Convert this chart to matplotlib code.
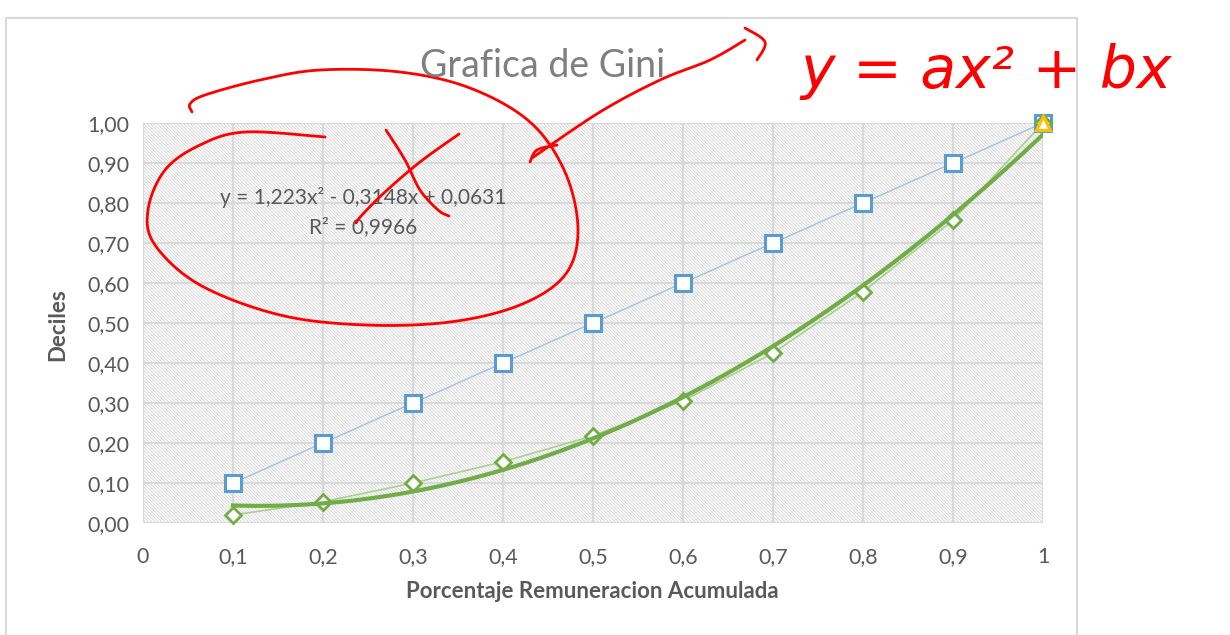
import numpy as np
import matplotlib
matplotlib.use("Agg")
import matplotlib.pyplot as plt
from matplotlib.patches import Rectangle

# datos
deciles_x = [0.1, 0.2, 0.3, 0.4, 0.5, 0.6, 0.7, 0.8, 0.9, 1.0]
igualdad_y = [0.1, 0.2, 0.3, 0.4, 0.5, 0.6, 0.7, 0.8, 0.9, 1.0]
lorenz_y = [0.020, 0.053, 0.100, 0.153, 0.218, 0.305, 0.425, 0.578, 0.757, 1.0]
punto_x = [1.0]
punto_y = [1.0]
coef = [1.223, -0.3148, 0.0631]
eq_text = "y = 1,223x² - 0,3148x + 0,0631"
r2_text = "R² = 0,9966"
x_ticks = [0, 0.1, 0.2, 0.3, 0.4, 0.5, 0.6, 0.7, 0.8, 0.9, 1.0]
x_labels = ["0", "0,1", "0,2", "0,3", "0,4", "0,5", "0,6", "0,7", "0,8", "0,9", "1"]
y_ticks = [0, 0.1, 0.2, 0.3, 0.4, 0.5, 0.6, 0.7, 0.8, 0.9, 1.0]
y_labels = ["0,00", "0,10", "0,20", "0,30", "0,40", "0,50", "0,60", "0,70", "0,80", "0,90", "1,00"]

plt.rcParams['font.family'] = ['Lato', 'DejaVu Sans']
plt.rcParams['hatch.linewidth'] = 0.5

W, H = 1230, 635
fig = plt.figure(figsize=(12.3, 6.35), dpi=100)

def px(x, y):
    return x / W, 1 - y / H

# borde del grafico
fig.patches.append(Rectangle(px(6, 640), 1071 / W, 622 / H, transform=fig.transFigure,
                             fill=False, edgecolor='#d9d9d9', linewidth=1.5))

ax = fig.add_axes([143 / W, 1 - 523 / H, 900 / W, 400 / H])
ax.add_patch(Rectangle((0, 0), 1, 1, transform=ax.transAxes, facecolor='white',
                       edgecolor='#cccccc', linewidth=0, hatch='\\' * 10, zorder=0))
ax.set_xlim(0, 1)
ax.set_ylim(0, 1)
ax.set_xticks(x_ticks)
ax.set_xticklabels(x_labels)
ax.set_yticks(y_ticks)
ax.set_yticklabels(y_labels)
ax.grid(True, color='#d9d9d9', linewidth=1.5, zorder=1)
ax.set_axisbelow(True)
for s in ax.spines.values():
    s.set_visible(False)
ax.tick_params(length=0, labelsize=15.5, labelcolor='#595959', pad=10)
ax.tick_params(axis='x', pad=17)

ax.plot(deciles_x, igualdad_y, color='#9dc3e6', linewidth=1, zorder=3)
ax.plot(deciles_x, igualdad_y, linestyle='none', marker='s', markersize=11.5,
        markerfacecolor='white', markeredgecolor='#5b9bd5', markeredgewidth=2.2, zorder=4, clip_on=False)
ax.plot(deciles_x, lorenz_y, color='#a9d18e', linewidth=1.2, zorder=3)
ax.plot(deciles_x, lorenz_y, linestyle='none', marker='D', markersize=8.5,
        markerfacecolor='white', markeredgecolor='#70ad47', markeredgewidth=2, zorder=4, clip_on=False)
xt = np.linspace(deciles_x[0], deciles_x[-1], 200)
ax.plot(xt, np.polyval(coef, xt), color='#70ad47', linewidth=3, zorder=5)
ax.plot(punto_x, punto_y, linestyle='none', marker='^', markersize=10,
        markerfacecolor='white', markeredgecolor='#ffc000', markeredgewidth=2.2, zorder=6, clip_on=False)

ax.text(0.245, 0.815, eq_text, ha='center', va='center', fontsize=15, color='#595959', zorder=6)
ax.text(0.245, 0.74, r2_text, ha='center', va='center', fontsize=15, color='#595959', zorder=6)

fig.text(*px(543, 66), "Grafica de Gini", ha='center', va='center', fontsize=27, color='#7f7f7f')
fig.text(*px(592, 592), "Porcentaje Remuneracion Acumulada", ha='center', va='center',
         fontsize=16, fontweight='bold', color='#595959')
fig.text(*px(58, 325), "Deciles", ha='center', va='center', rotation=90,
         fontsize=16, fontweight='bold', color='#595959')

# anotaciones a mano (rojo)
def smooth(pts, n=20):
    p = np.array(pts, dtype=float)
    p = np.vstack([p[0], p, p[-1]])
    out = []
    for i in range(1, len(p) - 2):
        p0, p1, p2, p3 = p[i - 1], p[i], p[i + 1], p[i + 2]
        for t in np.linspace(0, 1, n, endpoint=False):
            out.append(0.5 * ((2 * p1) + (-p0 + p2) * t + (2 * p0 - 5 * p1 + 4 * p2 - p3) * t ** 2
                              + (-p0 + 3 * p1 - 3 * p2 + p3) * t ** 3))
    out.append(p[-2])
    return np.array(out)

def stroke(pts):
    s = smooth(pts)
    fig.add_artist(plt.Line2D(s[:, 0] / W, 1 - s[:, 1] / H, transform=fig.transFigure,
                              color='#ff0000', linewidth=2, solid_capstyle='round'))

stroke([(192, 112), (190, 104), (205, 95), (260, 80), (320, 70), (400, 72), (470, 88), (530, 122),
        (565, 172), (578, 230), (565, 275), (520, 305), (450, 322), (365, 325), (280, 315),
        (200, 285), (155, 245), (148, 210), (165, 170), (200, 145), (245, 132), (325, 137)])
stroke([(386, 130), (405, 160), (420, 190), (438, 210), (449, 216)])
stroke([(459, 134), (420, 162), (385, 192), (362, 215), (356, 223)])
stroke([(530, 162), (537, 150), (557, 145)])
stroke([(532, 158), (600, 112), (660, 80), (710, 60), (745, 40)])
stroke([(745, 28), (765, 42), (757, 60)])
fig.text(*px(800, 72), "y = ax² + bx", ha='left', va='center', fontsize=42,
         color='#ff0000', style='italic', fontweight='light', family=['DejaVu Sans'])

fig.savefig("out.png", dpi=100)
